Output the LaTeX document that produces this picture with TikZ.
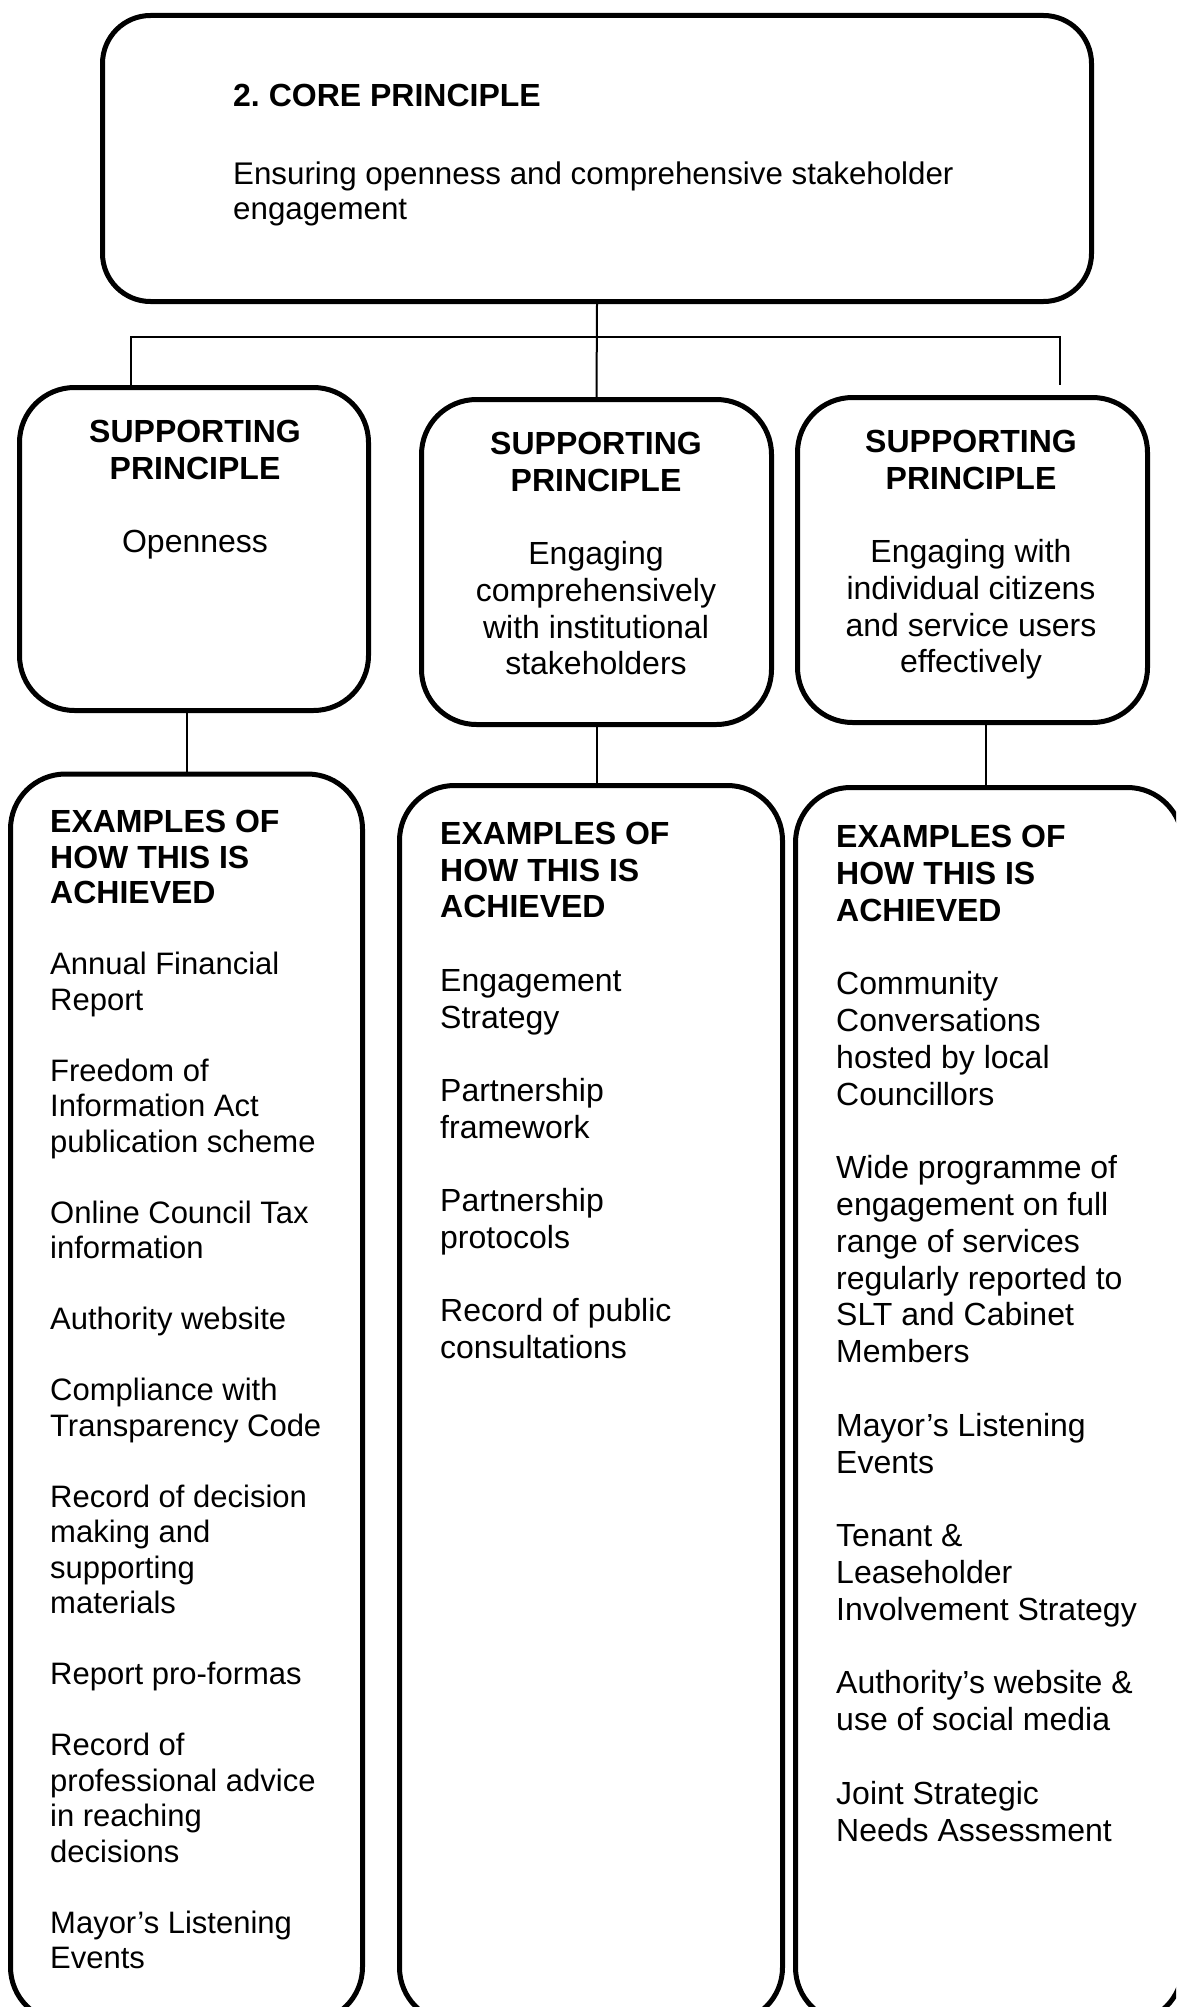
\documentclass[tikz,border=0pt]{standalone}
\usepackage{fontspec}
\setmainfont{Liberation Sans}
\usepackage{tikz}
\frenchspacing
\newcommand{\itemgap}{\\[\baselineskip]}
\newcommand{\headtxt}[1]{{\fontsize{32}{36}\selectfont\bfseries #1}}

\begin{document}
\begin{tikzpicture}[x=1pt,y=-1pt,
    box/.style={draw=black,line width=5pt,rounded corners=55pt,inner sep=0pt},
    link/.style={draw=black,line width=2pt},
    lefttxt/.style={inner sep=0pt,anchor=north west,align=left},
    midtxt/.style={inner sep=0pt,anchor=north,align=center,font=\fontsize{32}{36.7}\selectfont}]
    \useasboundingbox (0,0) rectangle (1176,2007);
    \clip (0,0) rectangle (1176,2007);
    % boxes
    \node[box,rounded corners=48pt,minimum width=989pt,minimum height=286pt] (core) at (597,158.5) {};
    \node[box,minimum width=349pt,minimum height=323pt] (sp1) at (194,549) {};
    \node[box,minimum width=350pt,minimum height=325pt] (sp2) at (596.5,562) {};
    \node[box,minimum width=350pt,minimum height=325pt] (sp3) at (972.5,560) {};
    \node[box,minimum width=352pt,minimum height=1248pt] (ex1) at (186.5,1398) {};
    \node[box,minimum width=383pt,minimum height=1237pt] (ex2) at (591,1404) {};
    \node[box,minimum width=387pt,minimum height=1235pt] (ex3) at (989,1405) {};
    % texts
    \node[lefttxt,anchor=base west,font=\bfseries\fontsize{32}{35.5}\selectfont] (coretitle) at (233,107) {2. CORE PRINCIPLE};
    \node[lefttxt,anchor=base west,font=\fontsize{31.3}{35}\selectfont] (coretext) at (233,219)
        {Ensuring openness and comprehensive stakeholder\\engagement};
    \node[midtxt] (sp1text) at (195,420) {\textbf{SUPPORTING}\\\textbf{PRINCIPLE}\itemgap Openness};
    \node[midtxt] (sp2text) at (596,432) {\textbf{SUPPORTING}\\\textbf{PRINCIPLE}\itemgap
        Engaging\\comprehensively\\with institutional\\stakeholders};
    \node[midtxt] (sp3text) at (971,430) {\textbf{SUPPORTING}\\\textbf{PRINCIPLE}\itemgap
        Engaging with\\individual citizens\\and service users\\effectively};
    \node[lefttxt,font=\fontsize{31}{35.5}\selectfont] (ex1text) at (50,810)
        {\headtxt{EXAMPLES OF}\\\headtxt{HOW THIS IS}\\\headtxt{ACHIEVED}\itemgap
        Annual Financial\\Report\itemgap
        Freedom of\\Information Act\\publication scheme\itemgap
        Online Council Tax\\information\itemgap
        Authority website\itemgap
        Compliance with\\Transparency Code\itemgap
        Record of decision\\making and\\supporting\\materials\itemgap
        Report pro-formas\itemgap
        Record of\\professional advice\\in reaching\\decisions\itemgap
        Mayor’s Listening\\Events};
    \node[lefttxt,font=\fontsize{32}{36.7}\selectfont] (ex2text) at (440,822)
        {\textbf{EXAMPLES OF}\\\textbf{HOW THIS IS}\\\textbf{ACHIEVED}\itemgap
        Engagement\\Strategy\itemgap
        Partnership\\framework\itemgap
        Partnership\\protocols\itemgap
        Record of public\\consultations};
    \node[lefttxt,font=\fontsize{32}{36.8}\selectfont] (ex3text) at (836,825)
        {\textbf{EXAMPLES OF}\\\textbf{HOW THIS IS}\\\textbf{ACHIEVED}\itemgap
        Community\\Conversations\\hosted by local\\Councillors\itemgap
        Wide programme of\\engagement on full\\range of services\\regularly reported to\\SLT and Cabinet\\Members\itemgap
        Mayor’s Listening\\Events\itemgap
        Tenant \&\\Leaseholder\\Involvement Strategy\itemgap
        Authority’s website \&\\use of social media\itemgap
        Joint Strategic\\Needs Assessment};
    % connectors
    \coordinate (busL) at (131,337);
    \coordinate (busR) at (1060,337);
    \coordinate (endR) at (1060,385);
    \draw[link] (core.south) -- (sp2.north);
    \draw[link] (busL |- sp1.north) -- (busL) -- (busR) -- (endR);
    \draw[link] (ex1.north) -- (ex1.north |- sp1.south);
    \draw[link] (sp2.south) -- (sp2.south |- ex2.north);
    \draw[link] ([xshift=13pt]sp3.south) -- ([xshift=13pt]sp3.south |- ex3.north);
\end{tikzpicture}
\end{document}
